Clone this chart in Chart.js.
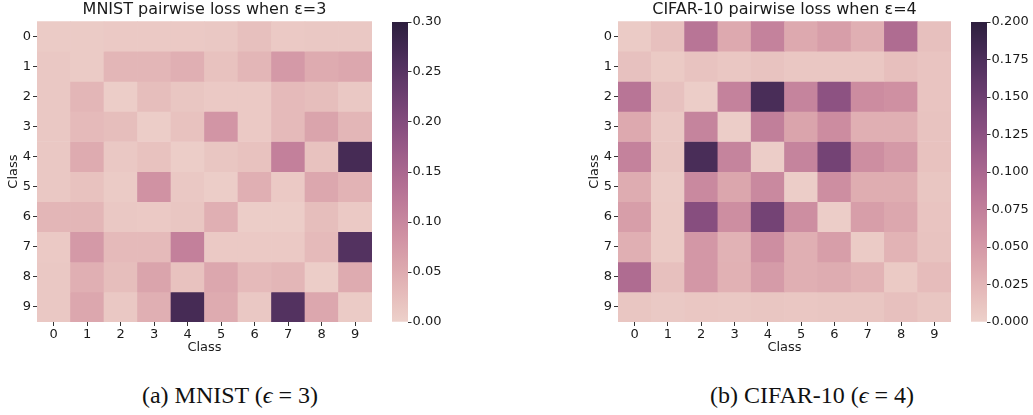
<!DOCTYPE html>
<html>
<head>
<meta charset="utf-8">
<script src="https://cdn.jsdelivr.net/npm/chart.js@4.4.0/dist/chart.umd.min.js"></script>
<style>
  body { margin:0; background:#fff; width:1033px; height:415px; position:relative; overflow:hidden; }
  canvas { position:absolute; top:0; }
  .cap { position:absolute; top:382px; font-family:'Liberation Serif','Times New Roman',serif; font-size:24px; color:#111; white-space:nowrap; transform:translateX(-50%); }
</style>
</head>
<body>
<canvas id="mnist" width="372" height="356" style="left:0px"></canvas>
<canvas id="mnistBar" width="62" height="356" style="left:392px"></canvas>
<canvas id="cifar" width="370" height="356" style="left:581px"></canvas>
<canvas id="cifarBar" width="62" height="356" style="left:971px"></canvas>
<div class="cap" style="left:230px">(a) MNIST (<i>ϵ</i> = 3)</div>
<div class="cap" style="left:812px">(b) CIFAR-10 (<i>ϵ</i> = 4)</div>
<script>
// class labels (both axes)
const classes = ['0','1','2','3','4','5','6','7','8','9'];

// MNIST pairwise loss, eps=3 (rows = class on y axis)
const mnistLoss = [
  [0.008,0.008,0.010,0.010,0.010,0.012,0.022,0.010,0.012,0.012],
  [0.012,0.008,0.035,0.035,0.045,0.020,0.035,0.075,0.050,0.055],
  [0.012,0.035,0.005,0.025,0.015,0.010,0.010,0.030,0.025,0.012],
  [0.012,0.030,0.025,0.005,0.020,0.080,0.010,0.030,0.060,0.035],
  [0.012,0.050,0.012,0.020,0.005,0.015,0.020,0.110,0.020,0.270],
  [0.012,0.020,0.008,0.085,0.012,0.005,0.045,0.010,0.055,0.040],
  [0.035,0.035,0.012,0.010,0.015,0.045,0.005,0.005,0.025,0.010],
  [0.010,0.075,0.030,0.030,0.110,0.010,0.010,0.010,0.030,0.255],
  [0.012,0.045,0.025,0.060,0.020,0.055,0.030,0.035,0.005,0.050],
  [0.012,0.055,0.012,0.045,0.270,0.050,0.012,0.255,0.055,0.008]
];

// CIFAR-10 pairwise loss, eps=4
const cifarLoss = [
  [0.005,0.015,0.085,0.035,0.072,0.035,0.045,0.030,0.095,0.015],
  [0.014,0.006,0.012,0.009,0.012,0.009,0.009,0.009,0.016,0.011],
  [0.085,0.014,0.003,0.072,0.178,0.070,0.125,0.062,0.058,0.011],
  [0.035,0.008,0.070,0.003,0.075,0.040,0.062,0.030,0.030,0.012],
  [0.072,0.010,0.178,0.070,0.003,0.070,0.145,0.060,0.050,0.013],
  [0.033,0.005,0.065,0.038,0.065,0.003,0.060,0.032,0.032,0.010],
  [0.045,0.006,0.130,0.060,0.145,0.060,0.003,0.045,0.037,0.011],
  [0.030,0.006,0.052,0.027,0.060,0.030,0.045,0.005,0.026,0.012],
  [0.095,0.015,0.052,0.028,0.048,0.030,0.033,0.026,0.006,0.018],
  [0.010,0.007,0.009,0.008,0.010,0.009,0.010,0.010,0.015,0.010]
];

// colorbar ticks
const mnistTicks = [0, 0.05, 0.10, 0.15, 0.20, 0.25, 0.30];
const cifarTicks = [0, 0.025, 0.05, 0.075, 0.10, 0.125, 0.15, 0.175, 0.20];

// seaborn default cubehelix_palette (light .85 -> dark .15)
function cubehelix(x) {
  const a = 0.8 * x * (1 - x) / 2;
  const phi = 2 * Math.PI * (0.4 * x);
  const c = Math.cos(phi), s = Math.sin(phi);
  const ch = v => Math.round(255 * Math.min(1, Math.max(0, v)));
  const r = x + a * (-0.14861 * c + 1.78277 * s);
  const g = x + a * (-0.29227 * c - 0.90649 * s);
  const b = x + a * (1.97294 * c);
  return `rgb(${ch(r)},${ch(g)},${ch(b)})`;
}
function cmap(v, vmax) {
  const t = Math.min(1, Math.max(0, v / vmax));
  return cubehelix(0.85 - 0.7 * t);
}

const font = { family: 'DejaVu Sans', size: 13, lineHeight: 1 };
const labelFont = { family: 'DejaVu Sans', size: 13 };
const txt = '#1a1a1a';

function heatmap(id, title, values, vmax) {
  new Chart(document.getElementById(id), {
    type: 'bar',
    data: {
      labels: classes,
      datasets: values.map((row, r) => ({
        data: row.map(() => [r, r + 1]),
        backgroundColor: row.map(v => cmap(v, vmax)),
        borderWidth: 0, barPercentage: 1, categoryPercentage: 1, grouped: false
      }))
    },
    options: {
      responsive: false, animation: false,
      plugins: {
        legend: { display: false }, tooltip: { enabled: false },
        title: { display: true, text: title, fullSize: false, color: txt,
                 font: { family: 'DejaVu Sans', size: 16, weight: 'normal' }, padding: { top: 0, bottom: 2 } }
      },
      scales: {
        x: {
          grid: { drawOnChartArea: false, offset: false, tickLength: 4, tickColor: '#333' },
          border: { display: false },
          ticks: { font, color: txt, padding: 2, maxRotation: 0 },
          title: { display: true, text: 'Class', font: labelFont, color: txt, padding: { top: 0, bottom: 1 } },
          afterFit: s => { s.height = 34; }
        },
        y: {
          min: 0, max: 10, reverse: true,
          afterBuildTicks: s => { s.ticks = classes.map((c, i) => ({ value: i + 0.5 })); },
          grid: { drawOnChartArea: false, tickLength: 4, tickColor: '#333' },
          border: { display: false },
          ticks: { font, color: txt, padding: 2, callback: (v, i) => classes[i] },
          title: { display: true, text: 'Class', font: labelFont, color: txt, padding: { top: 6, bottom: 0 } },
          afterFit: s => { s.width = 37; }
        }
      }
    }
  });
}

function colorbar(id, vmax, ticks, decimals) {
  new Chart(document.getElementById(id), {
    type: 'bar',
    data: {
      labels: [''],
      datasets: [{
        data: [vmax], borderWidth: 0, barPercentage: 1, categoryPercentage: 1,
        backgroundColor: c => {
          const a = c.chart.chartArea;
          if (!a) return null;
          const g = c.chart.ctx.createLinearGradient(0, a.bottom, 0, a.top);
          for (let i = 0; i <= 40; i++) g.addColorStop(i / 40, cmap(i / 40 * vmax, vmax));
          return g;
        }
      }]
    },
    options: {
      responsive: false, animation: false,
      layout: { padding: { top: 22, bottom: 34 } },
      plugins: { legend: { display: false }, tooltip: { enabled: false } },
      scales: {
        x: { display: false },
        y: {
          position: 'right', min: 0, max: vmax,
          afterBuildTicks: s => { s.ticks = ticks.map(v => ({ value: v })); },
          grid: { drawOnChartArea: false, tickLength: 3.5, tickColor: '#333' },
          border: { display: false },
          ticks: { font, color: txt, padding: 1, callback: v => v.toFixed(decimals) },
          afterFit: s => { s.width = 46; }
        }
      }
    }
  });
}

heatmap('mnist', 'MNIST pairwise loss when ε=3', mnistLoss, 0.30);
colorbar('mnistBar', 0.30, mnistTicks, 2);
heatmap('cifar', 'CIFAR-10 pairwise loss when ε=4', cifarLoss, 0.20);
colorbar('cifarBar', 0.20, cifarTicks, 3);
</script>
</body>
</html>
